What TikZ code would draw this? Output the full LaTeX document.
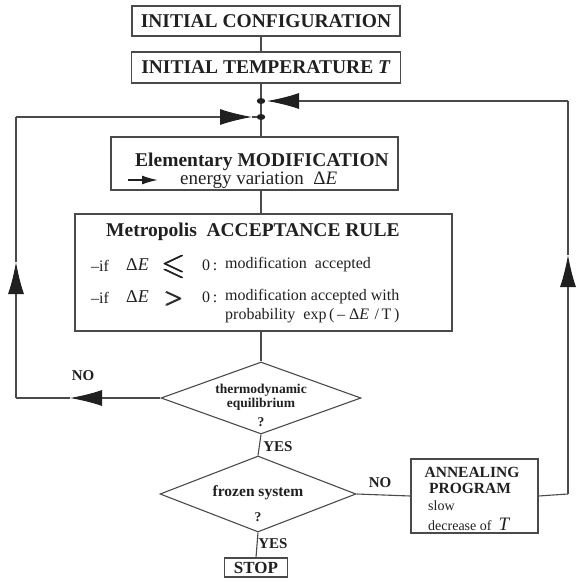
\documentclass[tikz,border=0pt]{standalone}
\usepackage{fontspec}
\setmainfont{Liberation Serif}
\usepackage{amsmath,amssymb}
\usetikzlibrary{arrows.meta,shapes.geometric}
\definecolor{lc}{HTML}{4a4a4a}
\definecolor{tc}{HTML}{202020}
\begin{document}
\begin{tikzpicture}[x=1pt,y=-1pt,
  box/.style={draw=lc,line width=1.1pt,rectangle,inner sep=0pt},
  dia/.style={draw=lc,line width=1.1pt,diamond,inner sep=0pt},
  conn/.style={draw=lc,line width=1.1pt},
  headend/.style={conn,-{Latex[length=32pt,width=16pt,color=tc]}},
  dotst/.style={ellipse,fill=tc,minimum width=8.5pt,minimum height=6pt,inner sep=0pt},
  txt/.style={text=tc,inner sep=0pt},
  bigb/.style={txt,font=\fontsize{19.5}{22}\selectfont\bfseries},
  bigr/.style={txt,font=\fontsize{19}{22}\selectfont},
  midr/.style={txt,font=\fontsize{16}{18}\selectfont},
  lab/.style={txt,font=\fontsize{15}{17}\selectfont\bfseries},
  smallb/.style={txt,font=\fontsize{13.5}{15}\selectfont\bfseries},
  smallr/.style={txt,font=\fontsize{14}{16}\selectfont},
  rel/.style={txt,font=\fontsize{30}{30}\selectfont}
]
\useasboundingbox (0,0) rectangle (577,582);

% boxes
\node[box,minimum width=268pt,minimum height=30pt,bigb] (conf) at (266,21) {INITIAL CONFIGURATION};
\node[box,minimum width=269pt,minimum height=31pt,bigb] (temp) at (266,67.5) {INITIAL TEMPERATURE \textit{T}};
\node[box,minimum width=287pt,minimum height=53pt] (elem) at (254.5,163.5) {};
\node[box,minimum width=377pt,minimum height=117pt] (metro) at (263.5,272.5) {};
\node[dia,minimum width=200pt,minimum height=72pt] (d1) at (261,398) {};
\node[dia,minimum width=196pt,minimum height=76pt] (d2) at (258,494) {};
\node[box,minimum width=63pt,minimum height=19pt,txt,font=\fontsize{17}{18}\selectfont\bfseries] (stop) at (256,567.5) {STOP};
\node[box,minimum width=127pt,minimum height=74pt] (ann) at (474.5,496) {};

% junction dots
\node[dotst] (dot1) at (261,101) {};
\node[dotst] (dot2) at (261,117) {};

% texts in elementary box
\node[bigb] (elt) at (262,162) {Elementary MODIFICATION};
\node[bigr,anchor=west] (ev) at (180,180) {energy variation\ \ Δ\textit{E}};
\draw[draw=tc,line width=1.6pt,-{Latex[length=16pt,width=9pt]}] ([xshift=-52pt]ev.west) -- ([xshift=-22pt]ev.west);

% texts in metropolis box
\node[bigb,anchor=west] (mt) at (106,232) {Metropolis\ \ ACCEPTANCE RULE};
\node[midr,anchor=west] (if1) at (91,266) {–if};
\node[midr,anchor=west,font=\fontsize{18}{20}\selectfont] (de1) at (126,265) {Δ\textit{E}};
\node[rel] (le) at (174,267) {$\pmb{\leqslant}$};
\node[midr,anchor=west] (z1) at (202,265) {0\,:};
\node[midr,anchor=west] (m1) at (225,265) {modification\ \ accepted};
\node[midr,anchor=west] (if2) at (91,298) {–if};
\node[midr,anchor=west,font=\fontsize{18}{20}\selectfont] (de2) at (126,297) {Δ\textit{E}};
\node[rel] (gt) at (174,299) {$\pmb{>}$};
\node[midr,anchor=west] (z2) at (202,297) {0\,:};
\node[midr,anchor=west] (m2) at (225,297) {modification accepted with};
\node[midr,anchor=west] (m3) at (225,316) {probability\ \ exp\,(\,– Δ\textit{E}\,\,/\,T\,)};

% diamond texts
\node[smallb] (th) at (261,390) {thermodynamic};
\node[smallb] (eq) at (261,404) {equilibrium};
\node[smallb] (q1) at (261,422) {?};
\node[txt,font=\fontsize{15.5}{17}\selectfont\bfseries] (fz) at (258,493) {frozen system};
\node[smallb] (q2) at (258,517) {?};

% annealing texts
\node[txt,font=\fontsize{15.5}{17}\selectfont\bfseries] (an1) at (472,472) {ANNEALING};
\node[txt,font=\fontsize{15.5}{17}\selectfont\bfseries] (an2) at (470,488) {PROGRAM};
\node[smallr,anchor=west] (an3) at (428,506) {slow};
\node[smallr,anchor=west] (an4) at (428,524) {decrease of\ \ {\fontsize{19}{20}\selectfont\textit{T}}};

% labels
\node[lab] (no1) at (83,376) {NO};
\node[lab] (yes1) at (278,447) {YES};
\node[lab] (yes2) at (273,544) {YES};
\node[lab] (no2) at (380,483) {NO};

% spine
\draw[conn] (conf.south -| dot1) -- (temp.north -| dot1);
\draw[conn] (temp.south -| dot1) -- (dot1);
\draw[conn] (dot1) -- (dot2);
\draw[conn] (dot2) -- (elem.north -| dot2);
\draw[conn] (elem.south -| dot2) -- (metro.north -| dot2);
\draw[conn] (metro.south -| d1) -- (d1.north);
\draw[conn] (d1.south) -- (d2.north);
\draw[conn] (d2.south) -- (stop.north);
\draw[conn] (d2.east) -- (ann.west);

% left loop
\coordinate (noTip) at (70,398);
\coordinate (lb) at (16,398);
\coordinate (upL) at (16,262);
\coordinate (lt) at (16,117);
\coordinate (rTipL) at (252,117);
\draw[headend] (d1.west) -- (noTip);
\draw[conn] (noTip) -- (lb);
\draw[headend] (lb) -- (upL);
\draw[conn] (upL) -- (lt);
\draw[headend] (lt) -- (rTipL);
\draw[conn] (rTipL) -- (dot2);

% right loop
\coordinate (rb) at (568,494);
\coordinate (upR) at (568,255);
\coordinate (rt) at (568,101);
\coordinate (lTipR) at (267,101);
\draw[conn] (ann.east) -- (rb);
\draw[headend] (rb) -- (upR);
\draw[conn] (upR) -- (rt);
\draw[headend] (rt) -- (lTipR);
\end{tikzpicture}
\end{document}
